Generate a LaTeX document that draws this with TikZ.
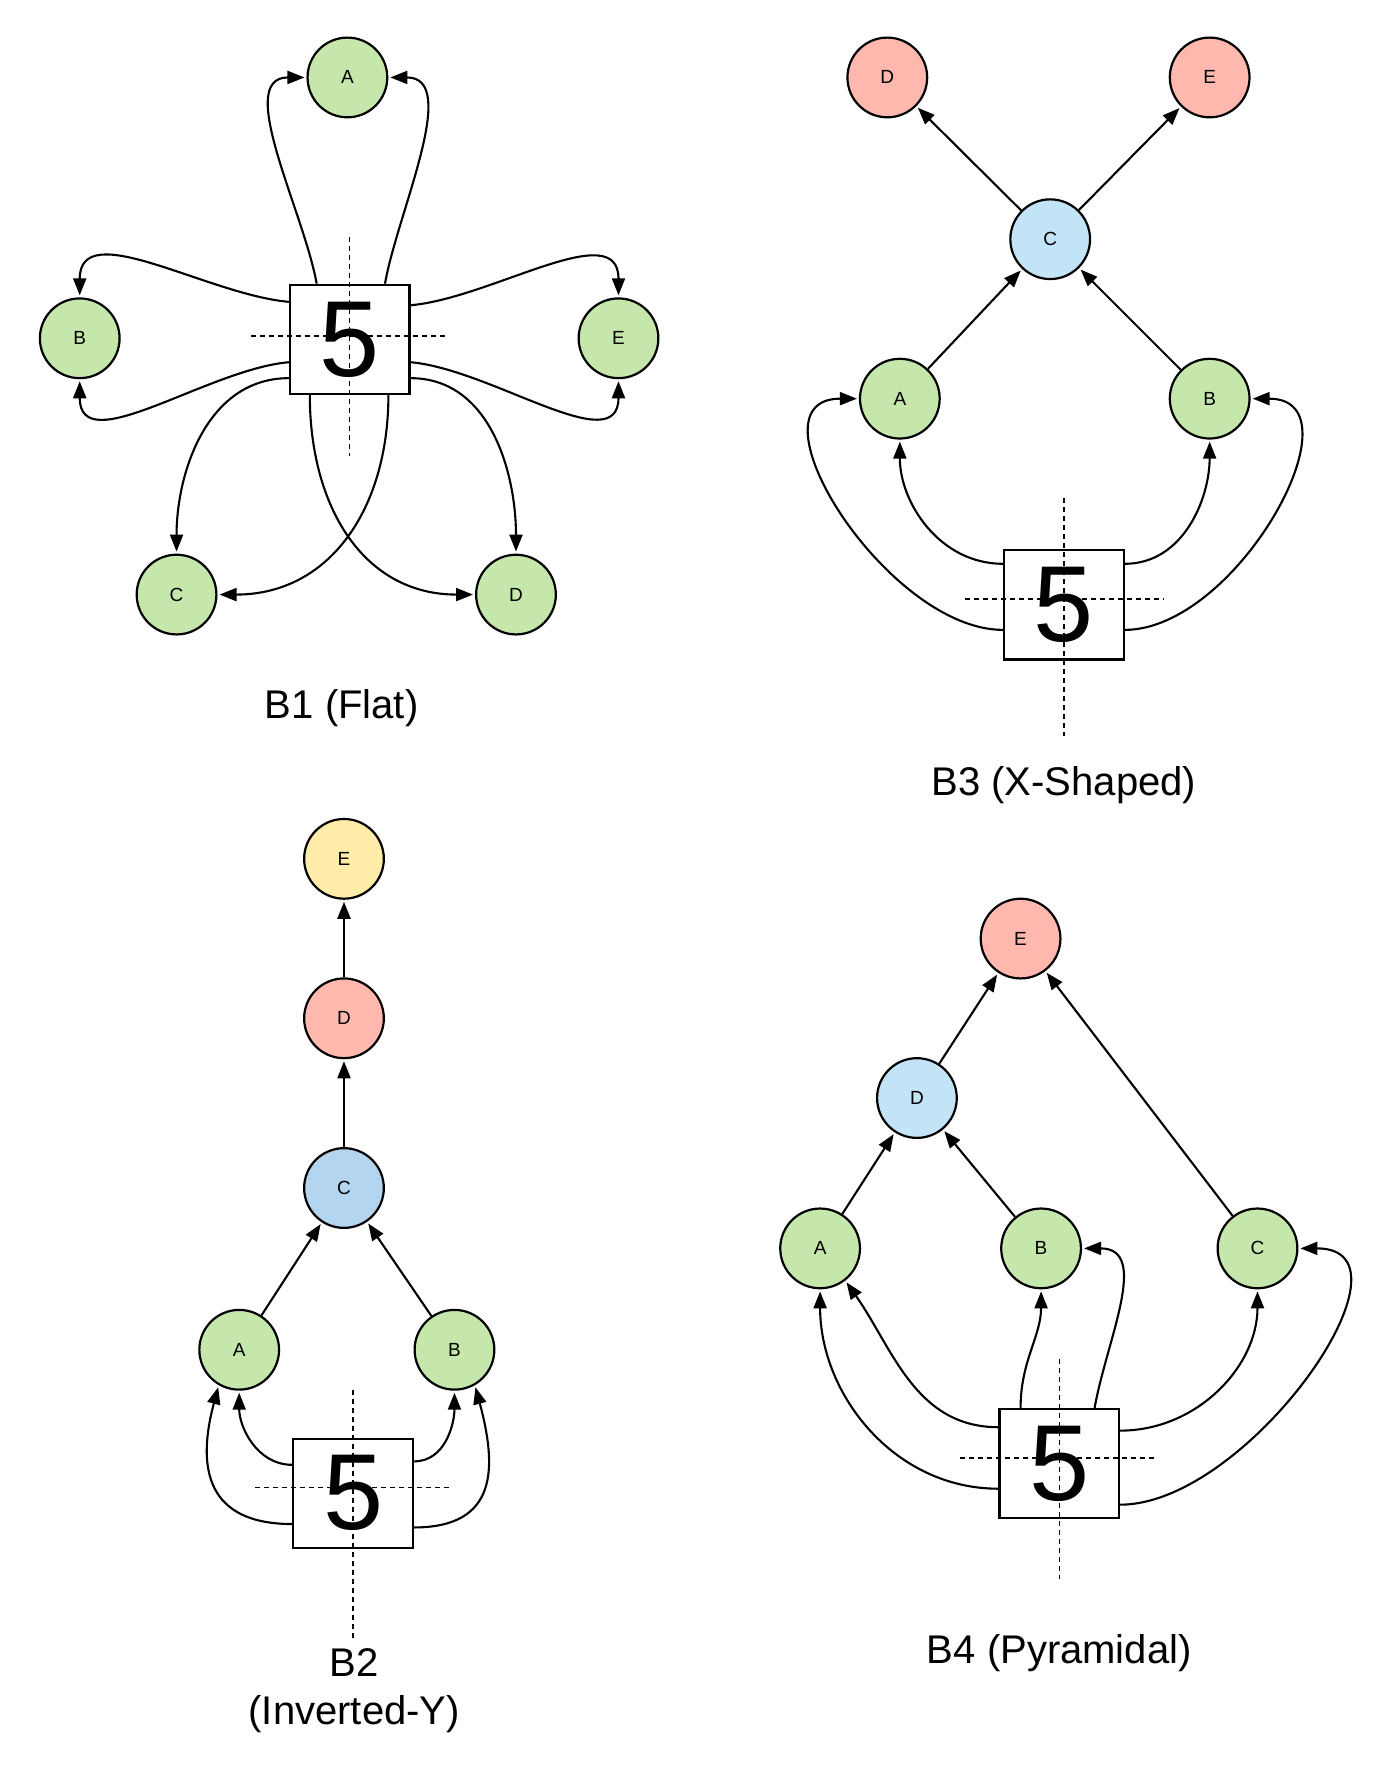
\documentclass[tikz,border=0pt]{standalone}
\usepackage{fontspec}
\setmainfont{Liberation Sans}
\usepackage{xcolor}
\usepackage{tikz}
\usetikzlibrary{arrows.meta,calc}

\definecolor{vargreen}{HTML}{C6E7AC}
\definecolor{varred}{HTML}{FFB8AE}
\definecolor{varblue}{HTML}{C3E4F7}
\definecolor{varsteel}{HTML}{B4D5EF}
\definecolor{varyellow}{HTML}{FFECA8}

\begin{document}
\begin{tikzpicture}[
    x=0.02cm, y=0.02cm,
    var/.style={circle, draw=black, line width=1.1pt, minimum size=1.4cm, inner sep=0pt, font=\fontsize{9.5}{11}\selectfont},
    var_green/.style={var, fill=vargreen},
    var_red/.style={var, fill=varred},
    var_blue/.style={var, fill=varblue},
    var_steel/.style={var, fill=varsteel},
    var_yellow/.style={var, fill=varyellow},
    fivebox/.style={rectangle, draw=black, fill=white, line width=1.1pt, minimum width=2.1cm, minimum height=1.92cm, inner sep=0pt, font=\fontsize{54}{54}\selectfont},
    arrow/.style={-{Triangle[length=8.5pt,width=6.5pt]}, line width=1.05pt, shorten >=1pt},
    guide/.style={dashed, dash pattern=on 2.5pt off 2pt, line width=0.8pt},
    caption/.style={align=center, font=\fontsize{20}{24}\selectfont}
]
    \useasboundingbox (0,0) rectangle (1212,-1568);

    % ---------------- B1 (Flat) ----------------
    \node (b1box) [fivebox] at (307,-298) {5};
    \node (b1a) [var_green] at (305,-68) {A};
    \node (b1b) [var_green] at (70,-297) {B};
    \node (b1e) [var_green] at (543,-297) {E};
    \node (b1c) [var_green] at (155,-522) {C};
    \node (b1d) [var_green] at (453,-522) {D};
    \node (b1cap) [caption] at (300,-622) {B1 (Flat)};

    \draw [arrow] ($(b1box.north)+(-29,0)$) to[out=100, in=180, looseness=0.9] (b1a.west);
    \draw [arrow] ($(b1box.north)+(31,0)$) to[out=80, in=0, looseness=0.9] (b1a.east);
    \draw [arrow] ($(b1box.west)+(0,33)$) to[out=175, in=90] (b1b.north);
    \draw [arrow] ($(b1box.west)+(0,-20)$) to[out=185, in=-90] (b1b.south);
    \draw [arrow] ($(b1box.east)+(0,30)$) to[out=5, in=90] (b1e.north);
    \draw [arrow] ($(b1box.east)+(0,-20)$) to[out=-5, in=-90] (b1e.south);
    \draw [arrow] ($(b1box.west)+(0,-34)$) to[out=180, in=90] (b1c.north);
    \draw [arrow] ($(b1box.east)+(0,-34)$) to[out=0, in=90] (b1d.north);
    \draw [arrow] ($(b1box.south)+(34,0)$) to[out=-90, in=0, looseness=1.1] (b1c.east);
    \draw [arrow] ($(b1box.south)+(-35,0)$) to[out=-90, in=180, looseness=1.1] (b1d.west);

    \draw [guide] ($(b1box.center)+(0,90)$) -- ($(b1box.center)+(0,-102)$);
    \draw [guide] ($(b1box.center)+(-87,3)$) -- ($(b1box.center)+(86,3)$);

    % ---------------- B3 (X-Shaped) ----------------
    \node (b3box) [fivebox] at (934,-531) {5};
    \node (b3d) [var_red] at (779,-68) {D};
    \node (b3e) [var_red] at (1062,-68) {E};
    \node (b3c) [var_blue] at (922,-210) {C};
    \node (b3a) [var_green] at (790,-350) {A};
    \node (b3b) [var_green] at (1062,-350) {B};
    \node (b3cap) [caption] at (934,-689) {B3 (X-Shaped)};

    \draw [arrow] (b3c) -- (b3d);
    \draw [arrow] (b3c) -- (b3e);
    \draw [arrow] (b3a) -- (b3c);
    \draw [arrow] (b3b) -- (b3c);
    \draw [arrow] ($(b3box.west)+(0,36)$) to[out=180, in=-90] (b3a.south);
    \draw [arrow] ($(b3box.west)+(0,-22)$) to[out=180, in=180, looseness=1.1] (b3a.west);
    \draw [arrow] ($(b3box.east)+(0,36)$) to[out=0, in=-90] (b3b.south);
    \draw [arrow] ($(b3box.east)+(0,-22)$) to[out=0, in=0, looseness=1.1] (b3b.east);

    \draw [guide] ($(b3box.center)+(0,94)$) -- ($(b3box.center)+(0,-115)$);
    \draw [guide] ($(b3box.center)+(-87,5)$) -- ($(b3box.center)+(87,5)$);

    % ---------------- B2 (Inverted-Y) ----------------
    \node (b2box) [fivebox] at (310,-1311) {5};
    \node (b2e) [var_yellow] at (302,-754) {E};
    \node (b2d) [var_red] at (302,-894) {D};
    \node (b2c) [var_steel] at (302,-1043) {C};
    \node (b2a) [var_green] at (210,-1185) {A};
    \node (b2b) [var_green] at (399,-1185) {B};
    \node (b2cap) [caption] at (311,-1484) {B2\\(Inverted-Y)};

    \draw [arrow] (b2d) -- (b2e);
    \draw [arrow] (b2c) -- (b2d);
    \draw [arrow] (b2a) -- (b2c);
    \draw [arrow] (b2b) -- (b2c);
    \draw [arrow] ($(b2box.west)+(0,25)$) to[out=180, in=-90] (b2a.south);
    \draw [arrow] ($(b2box.west)+(0,-27)$) to[out=180, in=-105, looseness=1.4] (b2a.240);
    \draw [arrow] ($(b2box.east)+(0,28)$) to[out=0, in=-90] (b2b.south);
    \draw [arrow] ($(b2box.east)+(0,-30)$) to[out=0, in=-75, looseness=1.4] (b2b.-60);

    \draw [guide] ($(b2box.center)+(0,91)$) -- ($(b2box.center)+(0,-127)$);
    \draw [guide] ($(b2box.center)+(-86,5)$) -- ($(b2box.center)+(86,5)$);

    % ---------------- B4 (Pyramidal) ----------------
    \node (b4box) [fivebox] at (930,-1285) {5};
    \node (b4e) [var_red] at (896,-824) {E};
    \node (b4d) [var_blue] at (805,-964) {D};
    \node (b4a) [var_green] at (720,-1096) {A};
    \node (b4b) [var_green] at (914,-1096) {B};
    \node (b4c) [var_green] at (1104,-1096) {C};
    \node (b4cap) [caption] at (930,-1451) {B4 (Pyramidal)};

    \draw [arrow] (b4d) -- (b4e);
    \draw [arrow] (b4c) -- (b4e);
    \draw [arrow] (b4a) -- (b4d);
    \draw [arrow] (b4b) -- (b4d);
    \draw [arrow] ($(b4box.west)+(0,32)$) to[out=180, in=-55] (b4a.-52);
    \draw [arrow] ($(b4box.west)+(0,-22)$) to[out=180, in=-90] (b4a.south);
    \draw [arrow] ($(b4box.north)+(-34,0)$) to[out=90, in=-90] (b4b.south);
    \draw [arrow] ($(b4box.north)+(31,0)$) to[out=80, in=0, looseness=1.1] (b4b.east);
    \draw [arrow] ($(b4box.east)+(0,29)$) to[out=0, in=-90] (b4c.south);
    \draw [arrow] ($(b4box.east)+(0,-36)$) to[out=0, in=0, looseness=1.05] (b4c.east);

    \draw [guide] ($(b4box.center)+(0,92)$) -- ($(b4box.center)+(0,-101)$);
    \draw [guide] ($(b4box.center)+(-87,5)$) -- ($(b4box.center)+(86,5)$);
\end{tikzpicture}
\end{document}
